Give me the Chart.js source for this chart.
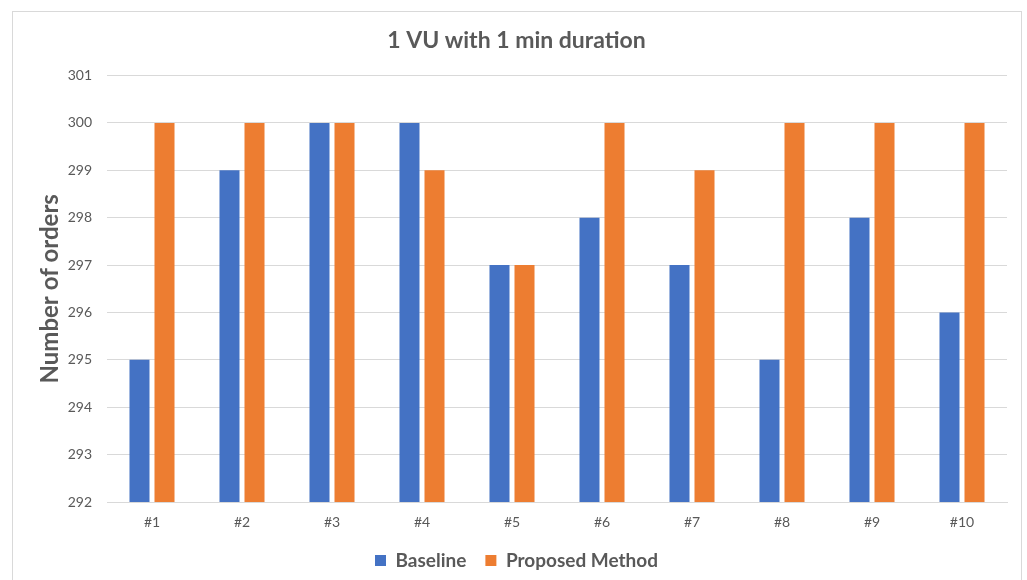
<!DOCTYPE html>
<html>
<head>
<meta charset="utf-8">
<script src="https://cdn.jsdelivr.net/npm/chart.js@4/dist/chart.umd.min.js"></script>
<style>
  html, body { margin: 0; padding: 0; background: #ffffff; }
  #wrap { position: relative; width: 1027px; height: 580px; }
  #frame { position: absolute; left: 12px; top: 11px; width: 1010px; height: 600px; border: 1px solid #d9d9d9; box-sizing: border-box; pointer-events: none; }
  canvas { position: absolute; left: 0; top: 0; }
</style>
</head>
<body>
<div id="wrap">
  <canvas id="c" width="1027" height="580"></canvas>
  <div id="frame"></div>
</div>
<script>
const categories = ["#1", "#2", "#3", "#4", "#5", "#6", "#7", "#8", "#9", "#10"];
const baseline = [295, 299, 300, 300, 297, 298, 297, 295, 298, 296];
const proposed = [300, 300, 300, 299, 297, 300, 299, 300, 300, 300];
const seriesNames = ["Baseline", "Proposed Method"];
const yMin = 292, yMax = 301, yStep = 1;

const fontFamily = "Lato, 'Open Sans', sans-serif";
const textColor = "#595959";

new Chart(document.getElementById("c"), {
  type: "bar",
  data: {
    labels: categories,
    datasets: [
      { label: seriesNames[0], data: baseline, backgroundColor: "#4472C4", borderWidth: 0, barPercentage: 0.8, categoryPercentage: 0.556 },
      { label: seriesNames[1], data: proposed, backgroundColor: "#ED7D31", borderWidth: 0, barPercentage: 0.8, categoryPercentage: 0.556 }
    ]
  },
  options: {
    responsive: false,
    animation: false,
    layout: { padding: { left: 26, right: 20, top: 16, bottom: 0 } },
    plugins: {
      title: {
        display: true,
        text: "1 VU with 1 min duration",
        color: textColor,
        font: { family: fontFamily, size: 23, weight: "bold" },
        padding: { top: 11, bottom: 21 }
      },
      legend: {
        position: "bottom",
        labels: {
          color: textColor,
          font: { family: fontFamily, size: 19, weight: "bold" },
          boxWidth: 11, boxHeight: 11,
          padding: 19
        }
      },
      tooltip: { enabled: false }
    },
    scales: {
      x: {
        grid: { display: false, drawTicks: false },
        border: { display: true, color: "#d9d9d9" },
        ticks: { color: textColor, font: { family: fontFamily, size: 14 }, padding: 12 },
        afterFit: (scale) => { scale.height = 30; }
      },
      y: {
        min: yMin, max: yMax,
        grid: { color: "#d9d9d9", drawTicks: false },
        border: { display: false },
        ticks: { stepSize: yStep, color: textColor, font: { family: fontFamily, size: 14 }, padding: 15 },
        title: { display: true, text: "Number of orders", color: textColor, font: { family: fontFamily, size: 24, weight: "bold" }, padding: { top: 10, bottom: -10 } },
        afterFit: (scale) => { scale.width = 81; }
      }
    }
  }
});
</script>
</body>
</html>
